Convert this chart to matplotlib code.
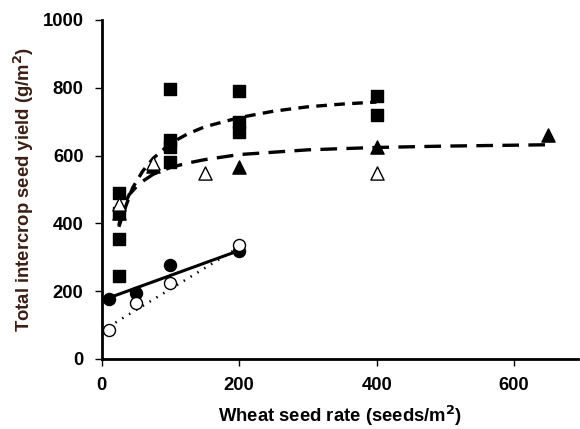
import matplotlib
matplotlib.use("Agg")
import matplotlib.pyplot as plt

plt.rcParams['font.family'] = ['Liberation Sans', 'DejaVu Sans']
plt.rcParams['font.weight'] = 'bold'

# filled squares
sq_x = [25, 25, 25, 25, 100, 100, 100, 100, 200, 200, 200, 400, 400]
sq_y = [490, 430, 354, 245, 795, 645, 625, 580, 790, 700, 670, 775, 720]
# filled triangles
tri_x = [25, 75, 200, 400, 650]
tri_y = [430, 568, 565, 625, 662]
# open triangles
otri_x = [25, 75, 150, 400]
otri_y = [458, 578, 548, 548]
# filled circles
circ_x = [10, 50, 100, 200]
circ_y = [177, 195, 277, 318]
# open circles
ocirc_x = [10, 50, 100, 200]
ocirc_y = [86, 165, 224, 337]

# fitted curves
fit_sq_x = [25, 35, 45, 60, 75, 100, 125, 150, 200, 250, 300, 350, 400]
fit_sq_y = [390, 450, 505, 555, 592, 636, 664, 685, 712, 731, 744, 752, 758]
fit_tri_x = [25, 30, 40, 55, 75, 100, 125, 150, 200, 300, 400, 500, 650]
fit_tri_y = [395, 440, 485, 518, 545, 565, 578, 588, 603, 617, 624, 628, 632]
fit_circ_x = [10, 200]
fit_circ_y = [180, 320]
fit_ocirc_x = [10, 200]
fit_ocirc_y = [95, 330]

fig = plt.figure(figsize=(5.8, 4.29), dpi=100)
ax = fig.add_axes([0.1753, 0.1632, 0.8213, 0.7902])

ax.plot(fit_sq_x, fit_sq_y, color='black', lw=2.4, dashes=(3.2, 2.2), zorder=2)
ax.plot(fit_tri_x, fit_tri_y, color='black', lw=2.4, dashes=(5, 2.8), zorder=2)
ax.plot(fit_circ_x, fit_circ_y, color='black', lw=2.2, zorder=2)
ax.plot(fit_ocirc_x, fit_ocirc_y, color='black', lw=1.8, dashes=(0.6, 2.6), zorder=2)

ax.scatter(sq_x, sq_y, marker='s', s=80, color='black', zorder=3)
ax.scatter(tri_x, tri_y, marker='^', s=90, color='black', zorder=3)
ax.scatter(otri_x, otri_y, marker='^', s=90, facecolor='white', edgecolor='black', lw=1, zorder=3)
ax.scatter(circ_x, circ_y, marker='o', s=75, color='black', zorder=3)
ax.scatter(ocirc_x, ocirc_y, marker='o', s=75, facecolor='white', edgecolor='black', lw=1, zorder=4)

ax.set_xlim(0, 693)
ax.set_ylim(0, 1000)
ax.set_xticks([0, 200, 400, 600])
ax.set_yticks([0, 200, 400, 600, 800, 1000])
for s in ['top', 'right']:
    ax.spines[s].set_visible(False)
for s in ['left', 'bottom']:
    ax.spines[s].set_linewidth(2)
ax.tick_params(direction='out', length=5, width=1, labelsize=13.3, pad=8)

ax.set_xlabel('Wheat seed rate (seeds/m$^\\mathbf{2}$)', fontsize=13.3, fontweight='bold', labelpad=7)
ax.set_ylabel('Total intercrop seed yield (g/m$^\\mathbf{2}$)', fontsize=13.3, fontweight='bold',
              color='#3b1f14', labelpad=5)

fig.savefig('out.png', dpi=100)
